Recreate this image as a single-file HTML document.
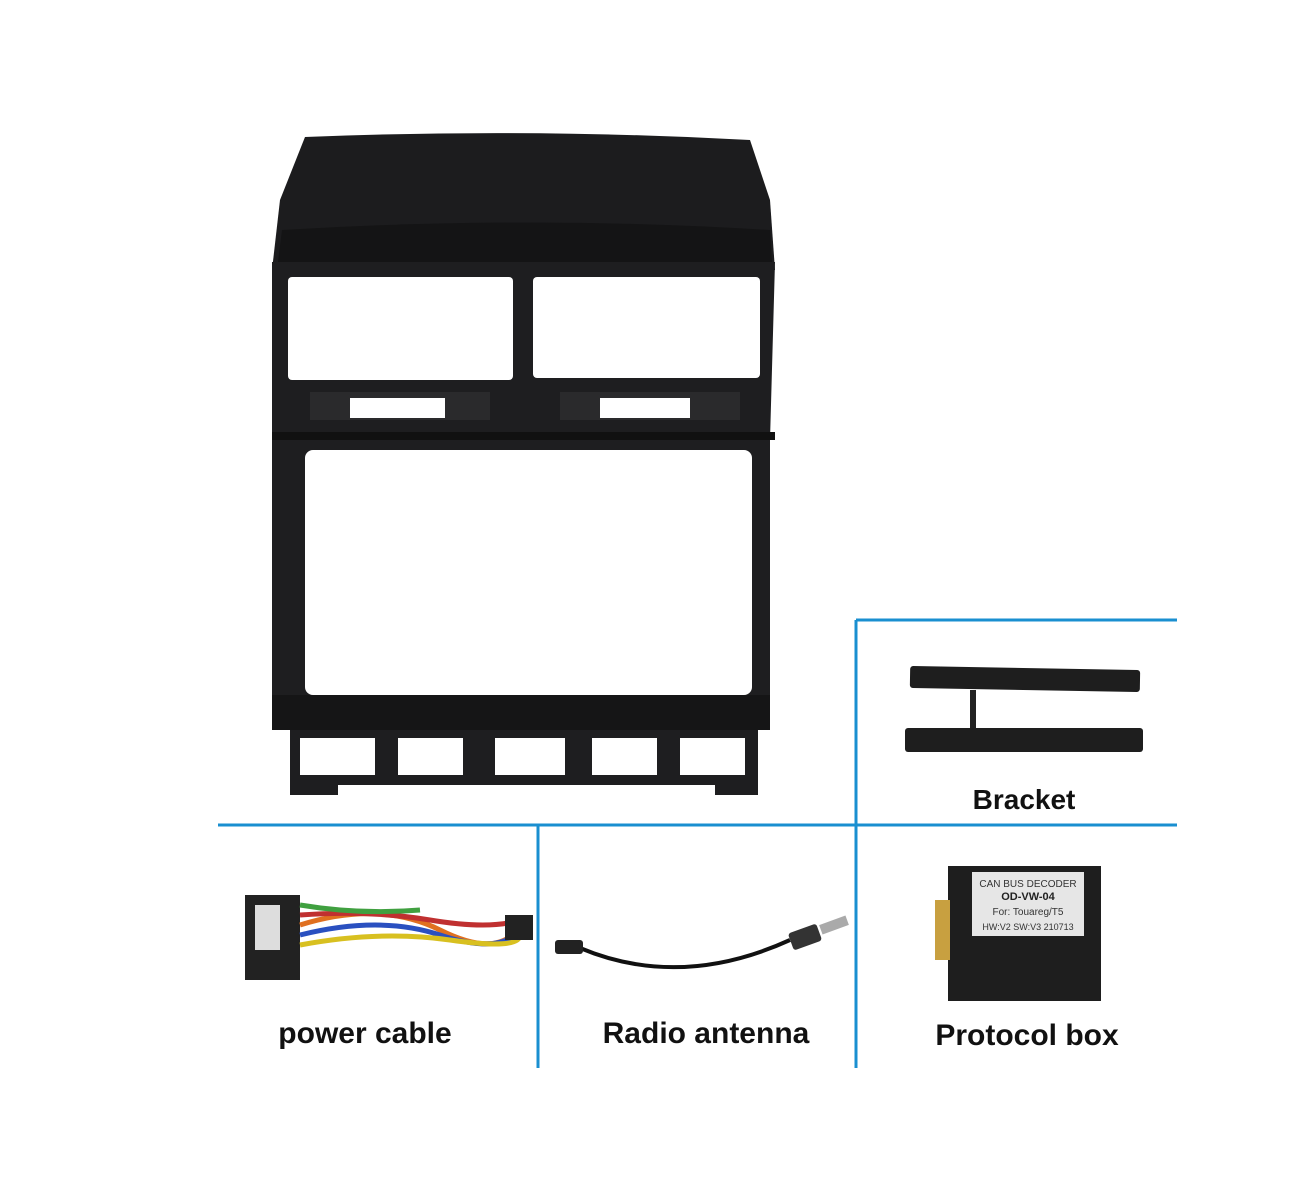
<!DOCTYPE html>
<html><head><meta charset="utf-8"><style>
html,body{margin:0;padding:0;background:#fff;}
svg{display:block}
text{font-family:"Liberation Sans",sans-serif;}
</style></head><body>
<svg width="1293" height="1189" viewBox="0 0 1293 1189" xmlns="http://www.w3.org/2000/svg">
<rect width="1293" height="1189" fill="#fff"/>
<g stroke="#1a8fd0" stroke-width="3">
<line x1="856" y1="620" x2="856" y2="1068"/>
<line x1="856" y1="620" x2="1177" y2="620"/>
<line x1="218" y1="825" x2="1177" y2="825"/>
<line x1="538" y1="825" x2="538" y2="1068"/>
</g>
<path d="M305 137 Q530 128 750 140 L770 200 L775 270 L272 270 L280 200 Z" fill="#1c1c1e"/>
<path d="M282 230 Q530 215 770 230 L772 262 L278 262 Z" fill="#141415"/>
<path d="M272 262 L775 262 L770 440 L770 730 L758 730 L758 795 L272 795 L272 440 Z" fill="#1e1e20"/>
<rect x="288" y="277" width="225" height="103" rx="4" fill="#fff"/>
<rect x="533" y="277" width="227" height="101" rx="4" fill="#fff"/>
<rect x="310" y="392" width="180" height="28" fill="#2a2a2c"/>
<rect x="560" y="392" width="180" height="28" fill="#2a2a2c"/>
<rect x="350" y="398" width="95" height="20" fill="#fff"/>
<rect x="600" y="398" width="90" height="20" fill="#fff"/>
<rect x="272" y="432" width="503" height="8" fill="#111"/>
<rect x="305" y="450" width="447" height="245" rx="8" fill="#fff"/>
<rect x="272" y="695" width="498" height="35" fill="#151516"/>
<rect x="272" y="730" width="18" height="65" fill="#fff"/>
<rect x="300" y="738" width="75" height="37" fill="#fff"/>
<rect x="398" y="738" width="65" height="37" fill="#fff"/>
<rect x="495" y="738" width="70" height="37" fill="#fff"/>
<rect x="592" y="738" width="65" height="37" fill="#fff"/>
<rect x="680" y="738" width="65" height="37" fill="#fff"/>
<rect x="338" y="785" width="377" height="10" fill="#fff"/>
<rect x="910" y="668" width="230" height="22" rx="3" fill="#1e1e1e" transform="rotate(1 1025 679)"/>
<rect x="905" y="728" width="238" height="24" rx="3" fill="#1e1e1e"/>
<rect x="970" y="690" width="6" height="38" fill="#222"/>
<text x="1024" y="809" font-size="28" font-weight="bold" text-anchor="middle" fill="#111">Bracket</text>
<rect x="245" y="895" width="55" height="85" fill="#222"/>
<rect x="255" y="905" width="25" height="45" fill="#ddd"/>
<g stroke-width="5" fill="none">
<path d="M300 925 Q380 900 440 930 T520 925" stroke="#e07020"/>
<path d="M300 935 Q380 915 440 935 T520 930" stroke="#2a50c0"/>
<path d="M300 915 Q370 910 430 920 T520 920" stroke="#c03030"/>
<path d="M300 945 Q380 930 450 940 T520 935" stroke="#d8c020"/>
<path d="M300 905 Q360 915 420 910" stroke="#40a040"/>
</g>
<rect x="505" y="915" width="28" height="25" fill="#222"/>
<text x="365" y="1043" font-size="30" font-weight="bold" text-anchor="middle" fill="#111">power cable</text>
<path d="M580 948 Q680 990 790 940" stroke="#111" stroke-width="4" fill="none"/>
<rect x="555" y="940" width="28" height="14" rx="3" fill="#222"/>
<rect x="790" y="928" width="30" height="18" rx="3" fill="#333" transform="rotate(-20 805 937)"/>
<rect x="820" y="920" width="28" height="10" fill="#aaa" transform="rotate(-20 834 925)"/>
<text x="706" y="1043" font-size="30" font-weight="bold" text-anchor="middle" fill="#111">Radio antenna</text>
<rect x="948" y="866" width="153" height="135" fill="#1e1e1e"/>
<rect x="935" y="900" width="15" height="60" fill="#c8a040"/>
<rect x="972" y="872" width="112" height="64" fill="#e6e6e6"/>
<text x="1028" y="887" font-size="10" font-family="Liberation Serif" text-anchor="middle" fill="#333">CAN BUS DECODER</text>
<text x="1028" y="900" font-size="11" font-weight="bold" font-family="Liberation Serif" text-anchor="middle" fill="#222">OD-VW-04</text>
<text x="1028" y="915" font-size="10" font-family="Liberation Serif" text-anchor="middle" fill="#333">For: Touareg/T5</text>
<text x="1028" y="930" font-size="9" font-family="Liberation Serif" text-anchor="middle" fill="#333">HW:V2  SW:V3  210713</text>
<text x="1027" y="1045" font-size="30" font-weight="bold" text-anchor="middle" fill="#111">Protocol box</text>
</svg>
</body></html>
